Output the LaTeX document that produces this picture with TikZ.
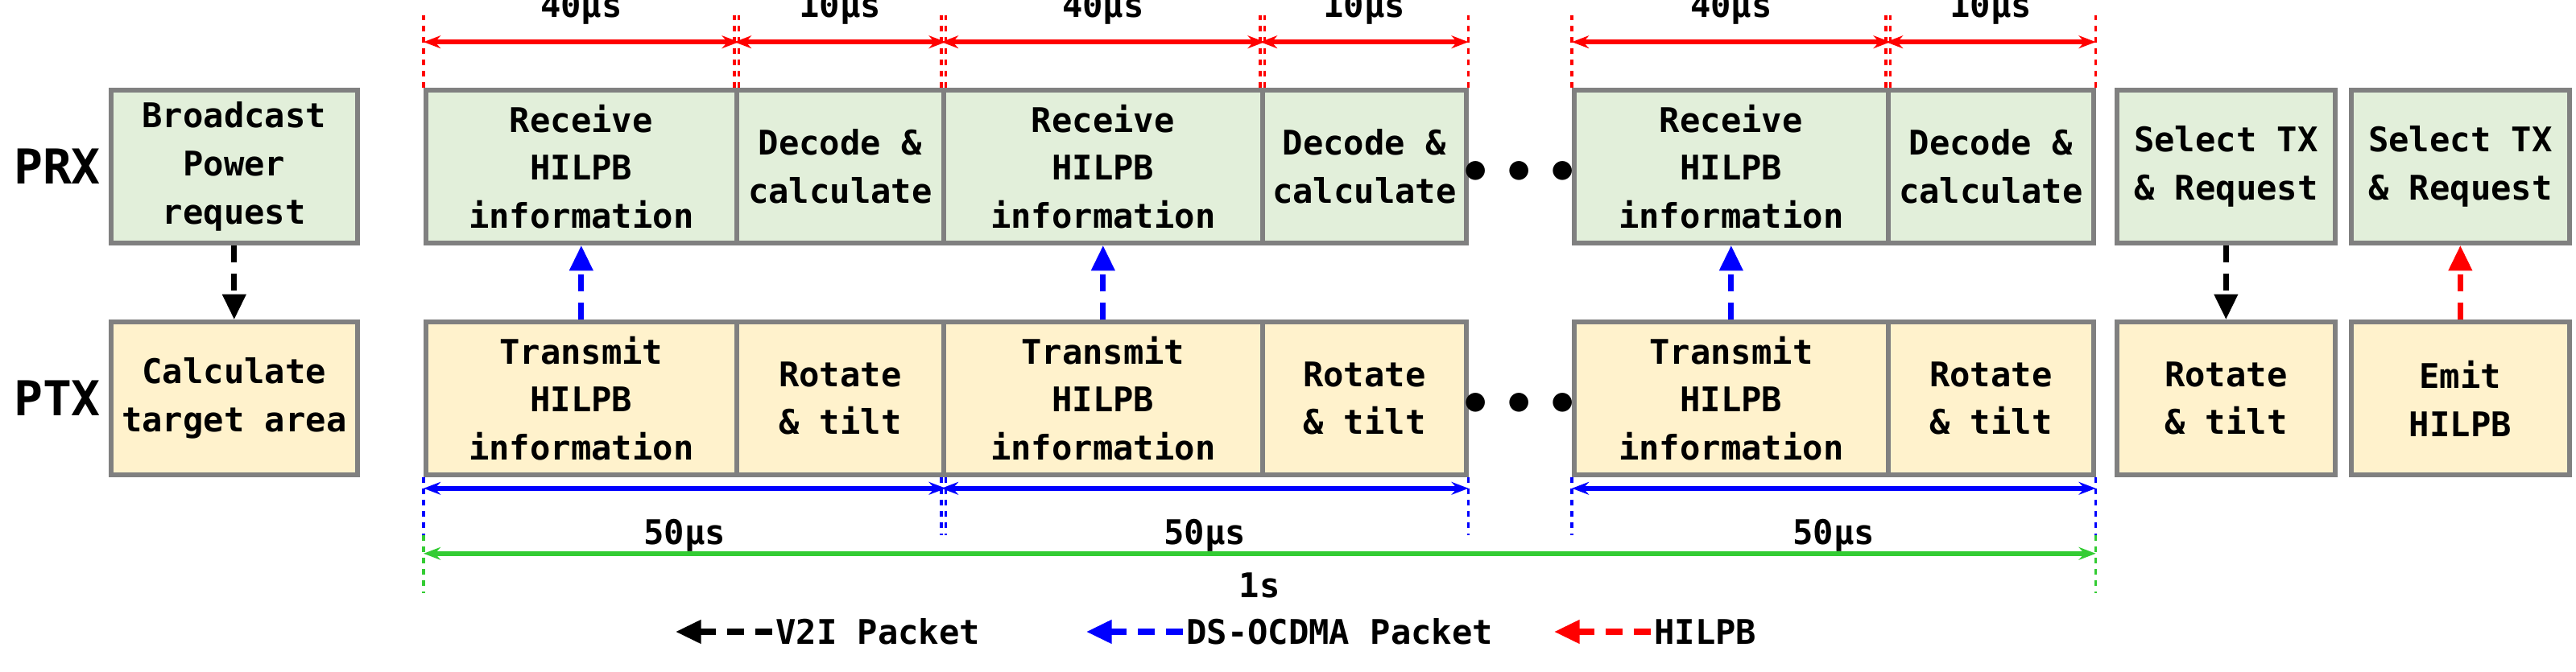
\documentclass[tikz,border=0pt]{standalone}
\usepackage{fontspec}
\setmainfont{DejaVu Sans Mono}
\usetikzlibrary{arrows.meta,positioning}
\definecolor{prxfill}{HTML}{E2EFDA}
\definecolor{ptxfill}{HTML}{FFF2CC}
\definecolor{dimgreen}{HTML}{33CC33}
\tikzset{font={\bfseries\fontsize{12}{17}\selectfont}}
\tikzset{
  task/.style={draw=gray, line width=1.6pt, minimum height=1.9cm, inner sep=0pt,
    align=center, anchor=west},
  prx/.style={task, fill=prxfill},
  ptx/.style={task, fill=ptxfill},
  link/.style={line width=2pt, dashed, dash pattern=on 6pt off 4pt, -{Triangle[length=9pt,width=8pt]}},
  dim/.style={line width=1.6pt, {Stealth[length=6pt]}-{Stealth[length=6pt]}},
  guide/.style={line width=1pt, dotted, dash pattern=on 2pt off 2pt}
}
\begin{document}
\begin{tikzpicture}
  \useasboundingbox (0,0) rectangle (31.99,8.34);

  \node[font={\bfseries\fontsize{17}{19}\selectfont}] (prx) at (0.71,6.27) {PRX};
  \node[font={\bfseries\fontsize{17}{19}\selectfont}] (ptx) at (0.71,3.39) {PTX};

  % PRX row
  \node[prx, minimum width=3.06cm] (bc) at (1.35,6.27) {Broadcast\\Power\\request};
  \node[prx, minimum width=3.86cm] (rx1) at (5.26,6.27) {Receive\\HILPB\\information};
  \node[prx, minimum width=2.57cm] (dc1) at (9.12,6.27) {Decode \&\\calculate};
  \node[prx, minimum width=3.96cm] (rx2) at (11.69,6.27) {Receive\\HILPB\\information};
  \node[prx, minimum width=2.53cm] (dc2) at (15.65,6.27) {Decode \&\\calculate};
  \node[prx, minimum width=3.90cm] (rx3) at (19.52,6.27) {Receive\\HILPB\\information};
  \node[prx, minimum width=2.55cm] (dc3) at (23.42,6.27) {Decode \&\\calculate};
  \node[prx, minimum width=2.71cm] (sel1) at (26.26,6.27) {Select TX\\\& Request};
  \node[prx, minimum width=2.71cm] (sel2) at (29.17,6.27) {Select TX\\\& Request};

  % PTX row
  \node[ptx, minimum width=3.06cm] (ct) at (1.35,3.39) {Calculate\\target area};
  \node[ptx, minimum width=3.86cm] (tx1) at (5.26,3.39) {Transmit\\HILPB\\information};
  \node[ptx, minimum width=2.57cm] (rt1) at (9.12,3.39) {Rotate\\\& tilt};
  \node[ptx, minimum width=3.96cm] (tx2) at (11.69,3.39) {Transmit\\HILPB\\information};
  \node[ptx, minimum width=2.53cm] (rt2) at (15.65,3.39) {Rotate\\\& tilt};
  \node[ptx, minimum width=3.90cm] (tx3) at (19.52,3.39) {Transmit\\HILPB\\information};
  \node[ptx, minimum width=2.55cm] (rt3) at (23.42,3.39) {Rotate\\\& tilt};
  \node[ptx, minimum width=2.71cm] (rt4) at (26.26,3.39) {Rotate\\\& tilt};
  \node[ptx, minimum width=2.71cm] (em) at (29.17,3.39) {Emit\\HILPB};

  \node[font={\LARGE}] (dots1) at (18.87,6.2) {$\bullet\,\bullet\,\bullet$};
  \node[font={\LARGE}] (dots2) at (18.87,3.32) {$\bullet\,\bullet\,\bullet$};

  % links between the rows
  \draw[link] (bc.south) -- (ct.north);
  \draw[link, blue] (tx1.north) -- (rx1.south);
  \draw[link, blue] (tx2.north) -- (rx2.south);
  \draw[link, blue] (tx3.north) -- (rx3.south);
  \draw[link] (sel1.south) -- (rt4.north);
  \draw[link, red] (em.north) -- (sel2.south);

  % slot durations
  \foreach \n in {rx1,dc1,rx2,dc2,rx3,dc3} {
    \draw[guide, red] (\n.north west) -- ++(0,0.9);
    \draw[guide, red] (\n.north east) -- ++(0,0.9);
  }
  \foreach \a/\t in {rx1/40,dc1/10,rx2/40,dc2/10,rx3/40,dc3/10} {
    \draw[dim, red] ([yshift=0.57cm]\a.north west) -- node[above=2pt, text=black] {\t µs} ([yshift=0.57cm]\a.north east);
  }

  % frame durations
  \foreach \a/\b in {tx1/rt1,tx2/rt2,tx3/rt3} {
    \draw[guide, blue] (\a.south west) -- ++(0,-0.72);
    \draw[guide, blue] (\b.south east) -- ++(0,-0.72);
    \draw[dim, blue] ([yshift=-0.14cm]\a.south west) -- ([yshift=-0.14cm]\b.south east)
      coordinate[pos=0.5] (m\a);
    \node (l\a) at ([yshift=-0.58cm]m\a) {50µs};
  }

  % total
  \draw[guide, dimgreen] (tx1.south west) ++(0,-0.72) -- ++(0,-0.72);
  \draw[guide, dimgreen] (rt3.south east) ++(0,-0.72) -- ++(0,-0.72);
  \draw[dim, dimgreen] ([yshift=-0.95cm]tx1.south west) -- ([yshift=-0.95cm]rt3.south east)
    coordinate[pos=0.5] (mtot);
  \node (ltot) at ([yshift=-0.4cm]mtot) {1s};

  % legend
  \coordinate (k1) at (9.59,0.49);
  \coordinate (k2) at (14.69,0.49);
  \coordinate (k3) at (20.50,0.49);
  \node[anchor=west, inner sep=1pt] (v2i) at (k1) {V2I Packet};
  \node[anchor=west, inner sep=1pt] (ds) at (k2) {DS-OCDMA Packet};
  \node[anchor=west, inner sep=1pt] (hi) at (k3) {HILPB};
  \draw[link] (v2i.west) -- ++(-1.2,0);
  \draw[link, blue] (ds.west) -- ++(-1.2,0);
  \draw[link, red] (hi.west) -- ++(-1.2,0);

\end{tikzpicture}
\end{document}
